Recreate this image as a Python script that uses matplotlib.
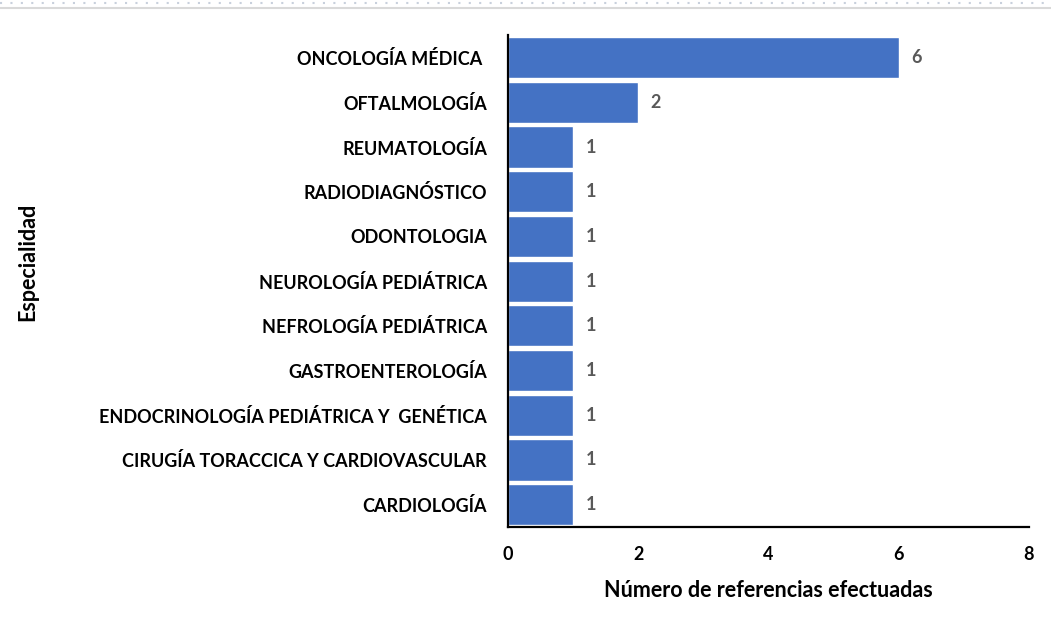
import matplotlib
matplotlib.use("Agg")
import matplotlib.pyplot as plt
from matplotlib.lines import Line2D

categories = [
    "ONCOLOGÍA MÉDICA ",
    "OFTALMOLOGÍA",
    "REUMATOLOGÍA",
    "RADIODIAGNÓSTICO",
    "ODONTOLOGIA",
    "NEUROLOGÍA PEDIÁTRICA",
    "NEFROLOGÍA PEDIÁTRICA",
    "GASTROENTEROLOGÍA",
    "ENDOCRINOLOGÍA PEDIÁTRICA Y  GENÉTICA",
    "CIRUGÍA TORACCICA Y CARDIOVASCULAR",
    "CARDIOLOGÍA",
]
values = [6, 2, 1, 1, 1, 1, 1, 1, 1, 1, 1]
xticks = [0, 2, 4, 6, 8]
xlabel = "Número de referencias efectuadas"
ylabel = "Especialidad"

plt.rcParams['font.family'] = ['Lato', 'DejaVu Sans']
plt.rcParams['font.weight'] = 'bold'

fig = plt.figure(figsize=(10.51, 6.30), dpi=100)
ax = fig.add_axes([0.4833, 0.1635, 0.4957, 0.7805])

n = len(categories)
ypos = list(range(n))[::-1]
ax.barh(ypos, values, height=0.92, color="#4472C4", edgecolor="white", linewidth=1.0, zorder=2)

for y, v in zip(ypos, values):
    ax.annotate(str(v), xy=(v, y), xytext=(9, 0), textcoords="offset points",
                ha="left", va="center", fontsize=13, fontweight="bold", color="#595959")

ax.set_xlim(0, 8)
ax.set_ylim(-0.5, n - 0.5)
ax.set_xticks(xticks)
ax.set_xticklabels([str(t) for t in xticks], fontsize=13, fontweight="bold")
ax.set_yticks(ypos)
ax.set_yticklabels(categories, fontsize=13, fontweight="bold")
ax.tick_params(axis="both", length=0)
ax.tick_params(axis="x", pad=14)
ax.tick_params(axis="y", pad=15)

for s in ["top", "right"]:
    ax.spines[s].set_visible(False)
for s in ["left", "bottom"]:
    ax.spines[s].set_linewidth(1.6)
    ax.spines[s].set_color("black")

ax.set_xlabel(xlabel, fontsize=15.5, fontweight="bold", labelpad=12)
fig.text(28 / 1051, 1 - 262 / 630, ylabel, rotation=90, ha="center", va="center",
         fontsize=15.5, fontweight="bold")

# decorative top border
fig.add_artist(Line2D([0, 1], [1 - 3 / 630, 1 - 3 / 630], transform=fig.transFigure,
                      color="#c8d0dc", linewidth=1.5, linestyle=(0, (1, 4))))
fig.add_artist(Line2D([0, 1], [1 - 8 / 630, 1 - 8 / 630], transform=fig.transFigure,
                      color="#d9d9d9", linewidth=1.5))

fig.savefig("out.png", dpi=100)
